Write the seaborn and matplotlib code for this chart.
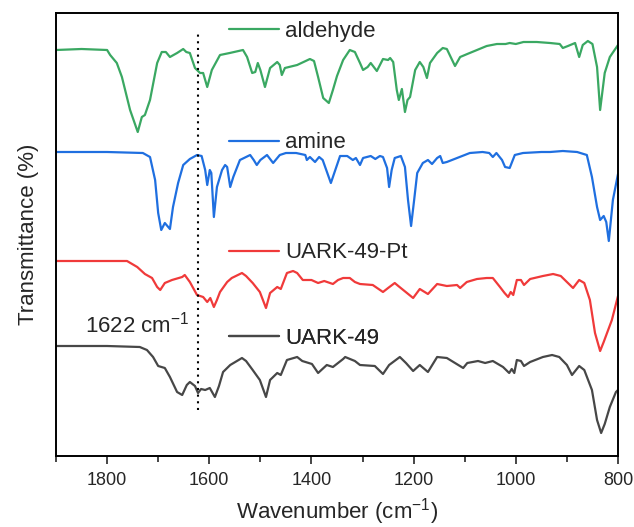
import numpy as np
import pandas as pd
import matplotlib
matplotlib.use("Agg")
import matplotlib.pyplot as plt
from matplotlib.lines import Line2D
from matplotlib.ticker import MultipleLocator
import seaborn as sns

# ---------------- data (arbitrary offset units) ----------------
ald_wn = [1900, 1850, 1800, 1794, 1781, 1771, 1755, 1740, 1732, 1726, 1716, 1702, 1693, 1685, 1677,
          1663, 1651, 1645, 1638, 1628, 1618, 1612, 1604, 1595, 1579, 1560, 1534, 1526, 1516, 1510,
          1505, 1500, 1491, 1481, 1467, 1462, 1458, 1452, 1428, 1403, 1395, 1387, 1377, 1366, 1358,
          1350, 1338, 1325, 1315, 1305, 1299, 1290, 1284, 1272, 1260, 1250, 1246, 1240, 1233, 1229,
          1223, 1217, 1212, 1207, 1197, 1188, 1181, 1174, 1168, 1154, 1143, 1135, 1119, 1109, 1095,
          1076, 1057, 1037, 1020, 1012, 1000, 985, 959, 933, 914, 908, 898, 884, 876, 869, 859, 850,
          841, 835, 826, 816, 800]
ald_t = [406, 407, 406, 401, 393, 379, 346, 324, 339, 341, 356, 393, 404, 404, 399,
         403, 407, 404, 403, 388, 383, 383, 369, 386, 401, 403, 406, 399, 383, 384,
         393, 386, 369, 388, 394, 391, 381, 388, 391, 397, 395, 379, 358, 353, 366,
         380, 396, 406, 404, 393, 386, 389, 393, 385, 397, 396, 398, 394, 366, 356,
         367, 344, 356, 359, 386, 394, 389, 378, 393, 403, 408, 407, 390, 399, 402,
         406, 410, 412, 412, 413, 412, 414, 414, 413, 412, 408, 410, 413, 399, 411, 415, 412,
         389, 346, 383, 399, 411]

ami_wn = [1900, 1800, 1730, 1716, 1706, 1700, 1694, 1687, 1677, 1671, 1661, 1651, 1638, 1624, 1615,
          1608, 1604, 1599, 1596, 1591, 1585, 1575, 1569, 1565, 1559, 1553, 1540, 1520, 1513, 1507,
          1500, 1487, 1475, 1462, 1450, 1430, 1412, 1409, 1403, 1393, 1385, 1378, 1362, 1350, 1344,
          1330, 1319, 1313, 1305, 1299, 1284, 1275, 1266, 1260, 1252, 1248, 1243, 1237, 1225, 1217,
          1211, 1205, 1199, 1193, 1182, 1172, 1164, 1154, 1148, 1143, 1135, 1115, 1100, 1090, 1065,
          1052, 1045, 1038, 1027, 1021, 1012, 1002, 986, 950, 933, 908, 880, 861, 851, 841, 835,
          828, 823, 818, 810, 800]
ami_t = [304, 304, 303, 299, 276, 243, 226, 233, 227, 249, 273, 291, 297, 301, 300,
         286, 271, 286, 283, 239, 269, 286, 291, 289, 269, 279, 296, 301, 296, 291,
         296, 301, 293, 301, 303, 303, 301, 296, 299, 294, 299, 296, 273, 291, 300,
         300, 296, 298, 291, 298, 300, 297, 300, 299, 288, 269, 286, 298, 300, 289,
         256, 230, 256, 283, 293, 296, 292, 298, 300, 293, 294, 298, 301, 303, 304,
         303, 299, 303, 296, 289, 288, 301, 303, 304, 304, 305, 304, 301, 279, 249, 236,
         240, 234, 215, 256, 282]

pt_wn = [1900, 1800, 1761, 1741, 1726, 1712, 1702, 1696, 1687, 1673, 1653, 1648, 1638, 1624, 1612,
         1604, 1598, 1591, 1585, 1579, 1565, 1556, 1536, 1528, 1515, 1501, 1489, 1481, 1467, 1460,
         1448, 1436, 1428, 1417, 1400, 1387, 1375, 1358, 1348, 1338, 1325, 1315, 1305, 1280, 1260,
         1250, 1237, 1230, 1201, 1188, 1172, 1154, 1135, 1115, 1109, 1096, 1076, 1057, 1045, 1031,
         1022, 1015, 1010, 1005, 998, 990, 984, 972, 947, 927, 912, 898, 888, 876, 866, 855, 845,
         835, 828, 812, 800]
pt_t = [195, 195, 195, 189, 182, 178, 169, 166, 173, 176, 179, 181, 174, 161, 159,
        154, 158, 149, 156, 164, 174, 178, 183, 180, 173, 164, 148, 163, 169, 167,
        183, 185, 183, 176, 176, 173, 175, 172, 176, 178, 178, 174, 172, 171, 164,
        168, 173, 170, 158, 167, 162, 172, 170, 171, 168, 174, 177, 178, 178, 169,
        163, 159, 164, 161, 176, 176, 171, 177, 180, 182, 180, 173, 168, 176, 173, 156, 123,
        105, 114, 136, 160]

ua_wn = [1900, 1800, 1736, 1722, 1710, 1700, 1687, 1677, 1663, 1653, 1644, 1638, 1628, 1622, 1616,
         1608, 1599, 1589, 1581, 1573, 1559, 1536, 1528, 1515, 1501, 1489, 1481, 1467, 1460, 1448,
         1428, 1418, 1399, 1387, 1370, 1358, 1338, 1334, 1315, 1305, 1276, 1260, 1248, 1227, 1215,
         1201, 1188, 1172, 1154, 1135, 1119, 1103, 1095, 1074, 1060, 1045, 1035, 1025, 1013, 1008,
         1003, 998, 990, 984, 972, 947, 929, 915, 900, 890, 876, 866, 851, 841, 833, 826, 816,
         804, 800]
ua_t = [110, 110, 109, 106, 99, 90, 88, 79, 64, 61, 71, 74, 70, 63, 67,
        66, 68, 59, 70, 84, 91, 98, 95, 86, 76, 59, 76, 83, 81, 96,
        99, 95, 92, 83, 91, 89, 97, 99, 95, 91, 90, 82, 91, 99, 93,
        85, 91, 84, 99, 98, 93, 88, 93, 95, 93, 95, 92, 89, 83, 87,
        83, 96, 95, 90, 94, 99, 101, 99, 91, 81, 90, 86, 66, 36, 23, 32, 49,
        64, 66]

series_names = ["aldehyde", "amine", "UARK-49-Pt", "UARK-49"]
series_colors = ["#3aa862", "#1f6fe0", "#f03a3a", "#474747"]
label_heights = [425, 313, 203, 118]   # data-y of the label row for each series
marker_wn = 1622
marker_label = "1622 cm$^{-1}$"

# ---------------- build table ----------------
frames = []
for name, wn, t in zip(series_names, [ald_wn, ami_wn, pt_wn, ua_wn], [ald_t, ami_t, pt_t, ua_t]):
    frames.append(pd.DataFrame({"Wavenumber": wn, "T": t, "sample": name}))
df = pd.concat(frames, ignore_index=True)

sns.set_style("ticks")
plt.rcParams["font.family"] = ["Liberation Sans", "DejaVu Sans"]
plt.rcParams["mathtext.fontset"] = "custom"
plt.rcParams["mathtext.rm"] = "Liberation Sans"
plt.rcParams["mathtext.it"] = "Liberation Sans"
plt.rcParams["mathtext.default"] = "regular"

fig = plt.figure(figsize=(6.34, 5.27), dpi=100)
ax = fig.add_axes([56 / 634, 1 - 456 / 527, 562 / 634, 443 / 527])

sns.lineplot(data=df, x="Wavenumber", y="T", hue="sample", hue_order=series_names,
             palette=series_colors, estimator=None, legend=False, lw=1.6, ax=ax)

ax.set_xlim(1900, 800)
ax.set_ylim(0, 443)

ax.vlines(marker_wn, 46, 426, colors="black", linestyles=(0, (1, 2.2)), lw=1.5)
ax.text(1638, 131, marker_label, fontsize=16, ha="right", va="center")

for name, col, h in zip(series_names, series_colors, label_heights):
    leg = ax.legend(handles=[Line2D([], [], color=col, lw=1.6)], labels=[name],
                    loc="center left", bbox_to_anchor=(0.307, h / 443), frameon=False,
                    fontsize=16, handlelength=2.25, handletextpad=0.3,
                    borderpad=0, borderaxespad=0)
    ax.add_artist(leg)

ax.xaxis.set_major_locator(MultipleLocator(200))
ax.xaxis.set_minor_locator(MultipleLocator(100))
ax.tick_params(axis="x", which="major", direction="out", length=5.5, width=1.2,
               labelsize=13, top=False, pad=6)
ax.tick_params(axis="x", which="minor", direction="out", length=4, width=1.2, top=False)
ax.set_yticks([])
for s in ax.spines.values():
    s.set_linewidth(1.4)
    s.set_color("black")

ax.set_xlabel("Wavenumber (cm$^{-1}$)", fontsize=16, labelpad=5)
ax.set_ylabel("Transmittance (%)", fontsize=16, labelpad=12)

fig.savefig("out.png", dpi=100)
